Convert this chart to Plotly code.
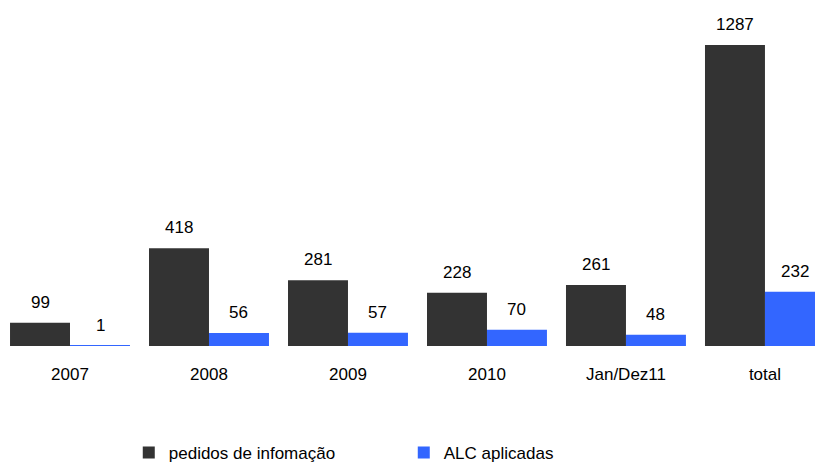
import plotly.graph_objects as go

categories = ["2007", "2008", "2009", "2010", "Jan/Dez11", "total"]
pedidos = [99, 418, 281, 228, 261, 1287]
alc = [1, 56, 57, 70, 48, 232]

dark = "#333333"
blue = "#3366FF"
font_family = "Liberation Sans, Arial, sans-serif"

fig = go.Figure()
fig.add_trace(go.Bar(name="pedidos de infomação", x=categories, y=pedidos,
                     marker=dict(color=dark, line=dict(width=0))))
fig.add_trace(go.Bar(name="ALC aplicadas", x=categories, y=alc,
                     marker=dict(color=blue, line=dict(width=0))))

annotations = []
for i, v in enumerate(pedidos):
    annotations.append(dict(x=i, y=v, text=str(v), showarrow=False, xref="x", yref="y",
                            xshift=-30, yshift=9, yanchor="bottom",
                            font=dict(size=17, color="#000000", family=font_family)))
for i, v in enumerate(alc):
    annotations.append(dict(x=i, y=v, text=str(v), showarrow=False, xref="x", yref="y",
                            xshift=30, yshift=9, yanchor="bottom",
                            font=dict(size=17, color="#000000", family=font_family)))

fig.update_layout(
    width=815, height=464,
    margin=dict(l=0, r=0, t=19, b=118, autoexpand=False),
    barmode="group", bargap=0.137, bargroupgap=0,
    plot_bgcolor="white", paper_bgcolor="white",
    font=dict(family=font_family, size=17, color="#000000"),
    showlegend=True,
    legend=dict(orientation="h", x=0.158, y=0.024, xref="container", yref="container",
                xanchor="left", yanchor="middle",
                entrywidth=230, entrywidthmode="pixels",
                font=dict(size=17, family=font_family)),
    annotations=annotations,
    xaxis=dict(type="category", range=[-0.5036, 5.36], showgrid=False, zeroline=False,
               showline=False, ticks="", ticklabelstandoff=16, tickfont=dict(size=17)),
    yaxis=dict(range=[0, 1398], visible=False, showgrid=False, zeroline=False),
)

fig.write_html("out.html",
               config={"displayModeBar": False},
               post_script="document.body.style.margin='0';document.body.style.overflow='hidden';")
